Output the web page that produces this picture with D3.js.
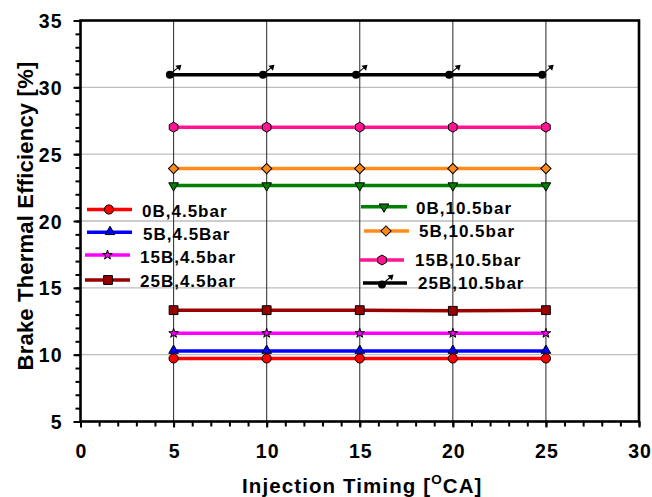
<!DOCTYPE html>
<html>
<head>
<meta charset="utf-8">
<script src="https://cdn.jsdelivr.net/npm/d3@7"></script>
<style>
  html, body { margin: 0; padding: 0; background: #fff; }
  svg { display: block; }
  text { font-family: "Liberation Sans", Arial, sans-serif; font-weight: bold; fill: #000; }
</style>
</head>
<body>
<svg id="chart" width="652" height="497"></svg>
<script>
// ---------------- data ----------------
const xValues = [5, 10, 15, 20, 25];
const xValuesShifted = [4.8, 9.8, 14.8, 19.8, 24.8];   // 25B,10.5bar markers sit slightly left
const s0B45  = [9.72, 9.72, 9.72, 9.72, 9.72];
const s5B45  = [10.27, 10.27, 10.27, 10.27, 10.27];
const s15B45 = [11.6, 11.6, 11.6, 11.6, 11.6];
const s25B45 = [13.33, 13.33, 13.33, 13.28, 13.33];
const s0B105  = [22.65, 22.65, 22.65, 22.65, 22.65];
const s5B105  = [23.92, 23.92, 23.92, 23.92, 23.92];
const s15B105 = [27.02, 27.02, 27.02, 27.02, 27.02];
const s25B105 = [30.95, 30.95, 30.95, 30.95, 30.95];

const seriesNames = ["0B,4.5bar", "5B,4.5Bar", "15B,4.5bar", "25B,4.5bar",
                     "0B,10.5bar", "5B,10.5bar", "15B,10.5bar", "25B,10.5bar"];
const xTicks = [0, 5, 10, 15, 20, 25, 30];
const yTicks = [5, 10, 15, 20, 25, 30, 35];
const xTitle = "Injection Timing [";
const xTitleSup = "O";
const xTitleEnd = "CA]";
const yTitle = "Brake Thermal Efficiency [%]";

// ---------------- styles ----------------
const styles = [
  {color: "#ff0000", marker: "circle"},
  {color: "#0000ff", marker: "triangle"},
  {color: "#ff00ff", marker: "star"},
  {color: "#990000", marker: "square"},
  {color: "#008000", marker: "triangleDown"},
  {color: "#ff8c1a", marker: "diamond"},
  {color: "#ff1493", marker: "hexagon"},
  {color: "#000000", marker: "arrowdot"}
];
const seriesData = [
  [xValues, s0B45], [xValues, s5B45], [xValues, s15B45], [xValues, s25B45],
  [xValues, s0B105], [xValues, s5B105], [xValues, s15B105], [xValuesShifted, s25B105]
];

const svg = d3.select("#chart");
const M = {left: 80.5, right: 639, top: 20.5, bottom: 421.5};
const x = d3.scaleLinear().domain([0, 30]).range([M.left, M.right]);
const y = d3.scaleLinear().domain([5, 35]).range([M.bottom, M.top]);

// gridlines
svg.append("g").selectAll("line").data(yTicks.filter(v => v > 5 && v < 35)).join("line")
  .attr("x1", M.left).attr("x2", M.right)
  .attr("y1", d => y(d)).attr("y2", d => y(d))
  .attr("stroke", "#bdbdbd").attr("stroke-width", 1.3);
svg.append("g").selectAll("line").data(xTicks.filter(v => v > 0 && v < 30)).join("line")
  .attr("x1", d => x(d)).attr("x2", d => x(d))
  .attr("y1", M.top).attr("y2", M.bottom)
  .attr("stroke", "#3a3a3a").attr("stroke-width", 1.1);

// axes (ticks outward)
const yAxisMinor = d3.axisLeft(y).tickValues(d3.range(5, 36, 1)).tickSize(5).tickFormat("");
const yAxisMajor = d3.axisLeft(y).tickValues(yTicks).tickSize(7).tickPadding(11).tickFormat(d3.format("d"));
const xAxisMinor = d3.axisBottom(x).tickValues(d3.range(0, 31, 1)).tickSize(5).tickFormat("");
const xAxisMajor = d3.axisBottom(x).tickValues(xTicks).tickSize(6).tickPadding(17).tickFormat(d3.format("d"));

function styleAxis(g) {
  g.select(".domain").remove();
  g.selectAll("line").attr("stroke", "#000").attr("stroke-width", 2);
  g.selectAll("text").style("font-size", "19.5px").style("font-weight", "bold")
    .style("font-family", '"Liberation Sans", Arial, sans-serif').attr("fill", "#000");
}
svg.append("g").attr("transform", `translate(${M.left},0)`).call(yAxisMinor).call(styleAxis);
svg.append("g").attr("transform", `translate(${M.left},0)`).call(yAxisMajor).call(styleAxis)
  .selectAll("text").attr("dy", "0.36em").attr("letter-spacing", "1px");
svg.append("g").attr("transform", `translate(0,${M.bottom})`).call(xAxisMinor).call(styleAxis);
svg.append("g").attr("transform", `translate(0,${M.bottom})`).call(xAxisMajor).call(styleAxis)
  .selectAll("text").attr("letter-spacing", "1px").attr("dx", "0.5px");

// markers
const hexPath = r => {
  const pts = d3.range(6).map(i => {
    const a = Math.PI / 6 + i * Math.PI / 3;
    return [r * Math.cos(a), r * Math.sin(a)];
  });
  return "M" + pts.map(p => p.join(",")).join("L") + "Z";
};
function drawMarker(g, type, color, cx, cy) {
  const t = `translate(${cx},${cy})`;
  if (type === "circle") {
    g.append("circle").attr("cx", cx).attr("cy", cy).attr("r", 4.6)
      .attr("fill", color).attr("stroke", "#000").attr("stroke-width", 1);
  } else if (type === "triangle") {
    g.append("path").attr("d", d3.symbol(d3.symbolTriangle, 40)()).attr("transform", t + " translate(0,-0.5)")
      .attr("fill", color).attr("stroke", "#000").attr("stroke-width", 1);
  } else if (type === "triangleDown") {
    g.append("path").attr("d", d3.symbol(d3.symbolTriangle, 40)()).attr("transform", t + " rotate(180)")
      .attr("fill", color).attr("stroke", "#000").attr("stroke-width", 1);
  } else if (type === "star") {
    g.append("path").attr("d", d3.symbol(d3.symbolStar, 28)()).attr("transform", t)
      .attr("fill", color).attr("stroke", "#000").attr("stroke-width", 1);
  } else if (type === "square") {
    g.append("path").attr("d", d3.symbol(d3.symbolSquare, 78)()).attr("transform", t)
      .attr("fill", color).attr("stroke", "#000").attr("stroke-width", 1);
  } else if (type === "diamond") {
    g.append("path").attr("d", d3.symbol(d3.symbolSquare, 52)()).attr("transform", t + " rotate(45)")
      .attr("fill", color).attr("stroke", "#000").attr("stroke-width", 1);
  } else if (type === "hexagon") {
    g.append("path").attr("d", hexPath(5)).attr("transform", t)
      .attr("fill", color).attr("stroke", "#000").attr("stroke-width", 1);
  } else if (type === "arrowdot") {
    g.append("circle").attr("cx", cx).attr("cy", cy).attr("r", 4).attr("fill", "#000");
    g.append("line").attr("x1", cx + 2).attr("y1", cy - 2).attr("x2", cx + 10).attr("y2", cy - 8.5)
      .attr("stroke", "#000").attr("stroke-width", 1.1);
    g.append("path").attr("d", `M${cx + 11.5},${cy - 10}L${cx + 5.5},${cy - 9}L${cx + 10},${cy - 4}Z`)
      .attr("fill", "#000");
  }
}

// series
const line = d3.line().x(d => x(d[0])).y(d => y(d[1]));
seriesData.forEach((sd, i) => {
  const pts = sd[0].map((xv, j) => [xv, sd[1][j]]);
  const g = svg.append("g");
  g.append("path").attr("d", line(pts)).attr("fill", "none")
    .attr("stroke", styles[i].color).attr("stroke-width", 3.5);
  pts.forEach(p => drawMarker(g, styles[i].marker, styles[i].color, x(p[0]), y(p[1])));
});

// frame
svg.append("rect").attr("x", M.left).attr("y", M.top)
  .attr("width", M.right - M.left).attr("height", M.bottom - M.top)
  .attr("fill", "none").attr("stroke", "#000").attr("stroke-width", 2.6);

// legends
const legendLayout = [
  {x1: 87, x2: 132, mx: 109, ly: 209.5, tx: 142, ty: 217},
  {x1: 87, x2: 132, mx: 110, ly: 232.3, tx: 143, ty: 239.5},
  {x1: 85, x2: 130, mx: 107.5, ly: 255, tx: 140, ty: 262.7},
  {x1: 85, x2: 130, mx: 108, ly: 280, tx: 140, ty: 287},
  {x1: 361, x2: 407, mx: 384, ly: 206.7, tx: 416, ty: 213.5},
  {x1: 364, x2: 409, mx: 386, ly: 231, tx: 419, ty: 236.8},
  {x1: 360, x2: 404, mx: 382, ly: 260, tx: 415, ty: 266},
  {x1: 363, x2: 407, mx: 382, ly: 283, tx: 418, ty: 289.3}
];
const lg = svg.append("g");
seriesNames.forEach((name, i) => {
  const L = legendLayout[i];
  lg.append("line").attr("x1", L.x1).attr("x2", L.x2).attr("y1", L.ly).attr("y2", L.ly)
    .attr("stroke", styles[i].color).attr("stroke-width", 3.5);
  drawMarker(lg, styles[i].marker, styles[i].color, L.mx, L.ly + (i === 7 ? 1.5 : 0));
  lg.append("text").attr("x", L.tx).attr("y", L.ty).attr("font-size", "17px")
    .attr("letter-spacing", "1px").text(name);
});

// axis titles
const xt = svg.append("text").attr("x", 242).attr("y", 493).attr("font-size", "20.5px")
  .attr("letter-spacing", "1.1px");
xt.append("tspan").text(xTitle);
xt.append("tspan").attr("font-size", "13.5px").attr("dy", "-9").text(xTitleSup);
xt.append("tspan").attr("dy", "9").text(xTitleEnd);

svg.append("text").attr("transform", "translate(32.5,216) rotate(-90)")
  .attr("text-anchor", "middle").attr("font-size", "22px").attr("letter-spacing", "0.2px")
  .text(yTitle);
</script>
</body>
</html>
